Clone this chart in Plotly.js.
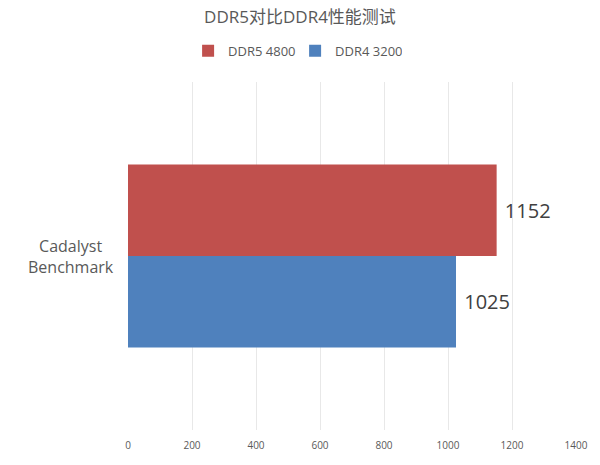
<!DOCTYPE html>
<html><head><meta charset="utf-8">
<script src="https://cdn.plot.ly/plotly-3.0.1.min.js"></script>
<style>html,body{margin:0;padding:0;background:#fff}#chart{width:600px;height:465px}</style>
</head><body><div id="chart"></div>
<script>
const categories = ['Cadalyst<br>Benchmark'];
const seriesNames = ['DDR5 4800', 'DDR4 3200'];
const ddr5Values = [1152];
const ddr4Values = [1025];
const xTicks = [0, 200, 400, 600, 800, 1000, 1200, 1400];
const colors = ['#C0504D', '#4F81BD'];
const font = '"Open Sans", "Noto Sans CJK SC", sans-serif';

const mk = (name, vals, color) => ({
  type: 'bar', orientation: 'h', name: name,
  x: vals, y: categories,
  marker: {color: color},
  text: vals.map(v => '\u00a0' + v), textposition: 'outside',
  textfont: {size: 20, color: '#404040', family: font},
  cliponaxis: false, hoverinfo: 'x+name'
});

const data = [mk(seriesNames[0], ddr5Values, colors[0]), mk(seriesNames[1], ddr4Values, colors[1])];

const layout = {
  width: 600, height: 465,
  margin: {l: 128, r: 24, t: 82, b: 35, autoexpand: false},
  paper_bgcolor: '#fff', plot_bgcolor: '#fff',
  font: {family: font, color: '#595959'},
  title: {text: 'DDR5对比DDR4性能测试', x: 0.5, xanchor: 'center', y: 0.963, yanchor: 'middle',
          font: {size: 17, color: '#595959', family: font}},
  barmode: 'group', bargap: 0.474, bargroupgap: 0,
  showlegend: true,
  legend: {orientation: 'h', x: 0.373, xanchor: 'center', y: 1.09, yanchor: 'middle',
           font: {size: 13, color: '#595959'}, itemwidth: 30, entrywidth: 62, traceorder: 'normal'},
  xaxis: {range: [0, 1400], tickvals: xTicks, ticktext: xTicks.map(String),
          showgrid: true, gridcolor: '#E8E8E8', gridwidth: 1, zeroline: false, automargin: false,
          showline: false, ticks: '', ticklabelstandoff: 8, tickfont: {size: 10, color: '#595959'}, fixedrange: true},
  yaxis: {autorange: 'reversed', showgrid: false, zeroline: false, showline: false, automargin: false,
          ticks: '', showticklabels: false, fixedrange: true},
  annotations: categories.map(c => ({
    text: c, xref: 'paper', x: -0.127, xanchor: 'center', yref: 'y', y: c, yanchor: 'middle',
    align: 'center', showarrow: false, font: {size: 16, color: '#595959', family: font}
  }))
};

Plotly.newPlot('chart', data, layout, {displayModeBar: false, staticPlot: true});
</script></body></html>
